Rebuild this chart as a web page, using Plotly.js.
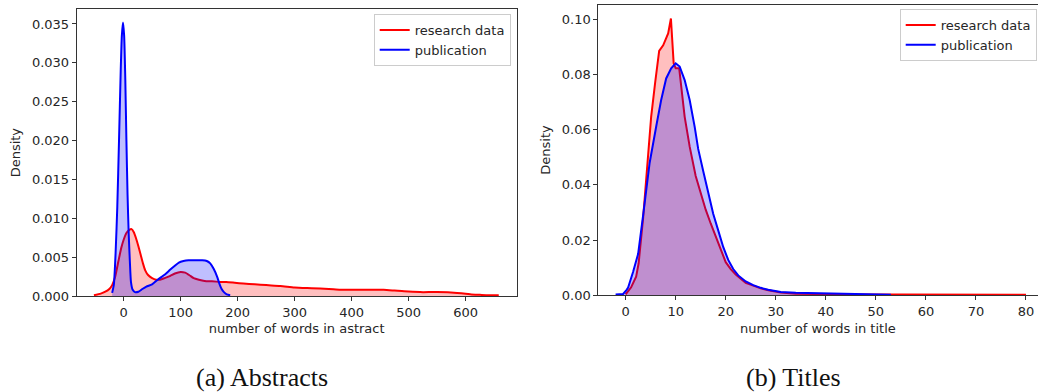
<!DOCTYPE html>
<html>
<head>
<meta charset="utf-8">
<script src="https://cdn.plot.ly/plotly-3.0.1.min.js"></script>
<style>
  html, body { margin: 0; padding: 0; background: #fff; }
  #chart { width: 1038px; height: 392px; }
</style>
</head>
<body>
<div id="chart"></div>
<script>
// Kernel density estimates of word counts, abstracts (left) and titles (right)
const seriesNames = ['research data', 'publication'];
const captions = ['(a) Abstracts', '(b) Titles'];
const xAxisLabels = ['number of words in astract', 'number of words in title'];
const yAxisLabel = 'Density';

// Abstracts: research data
const abstractResearchX = [-52, -40, -32, -25, -20, -15, -9, -4, 0, 5, 10, 14, 18, 22, 26, 30, 34, 38, 43, 50, 57, 64, 72, 82, 90, 100, 108, 115, 123, 132, 145, 155, 170, 180, 195, 210, 230, 250, 275, 300, 330, 360, 380, 400, 430, 456, 475, 492, 520, 550, 585, 600, 610, 625, 640, 658];
const abstractResearchY = [0.0001, 0.0003, 0.00055, 0.0009, 0.0014, 0.0024, 0.0045, 0.0062, 0.0072, 0.0081, 0.0085, 0.0086, 0.0082, 0.0074, 0.0064, 0.0053, 0.0042, 0.0033, 0.0027, 0.0023, 0.0021, 0.0021, 0.0023, 0.0026, 0.0029, 0.0031, 0.0030, 0.0027, 0.0023, 0.0021, 0.0019, 0.0019, 0.0018, 0.0018, 0.0017, 0.0016, 0.0015, 0.0014, 0.0013, 0.0011, 0.0010, 0.0009, 0.0008, 0.0008, 0.0008, 0.0008, 0.0007, 0.0006, 0.0005, 0.0005, 0.0004, 0.0003, 0.0002, 0.00015, 0.0001, 0.0001];

// Abstracts: publication
const abstractPubX = [-20, -17, -14, -11, -8, -5, -3, -1, 1, 3, 5, 7, 9, 11, 13, 16, 20, 26, 33, 40, 50, 60, 73, 82, 90, 97, 105, 114, 125, 138, 146, 152, 158, 164, 168, 172, 176, 181, 187];
const abstractPubY = [0.0004, 0.0015, 0.0055, 0.0115, 0.020, 0.029, 0.0335, 0.0352, 0.0335, 0.028, 0.020, 0.013, 0.008, 0.0045, 0.0018, 0.0008, 0.0005, 0.00055, 0.0009, 0.0012, 0.0015, 0.0021, 0.0028, 0.0034, 0.0039, 0.0043, 0.0045, 0.0046, 0.0046, 0.0046, 0.0045, 0.0042, 0.0035, 0.0025, 0.0016, 0.0009, 0.0005, 0.0002, 0.0001];

// Titles: research data
const titleResearchX = [0, 1.1, 2.1, 2.6, 3.5, 4.3, 5.1, 5.9, 6.7, 7.5, 8.5, 9.05, 9.6, 10.0, 10.7, 11.8, 12.8, 14.0, 14.8, 16.0, 17.0, 18.0, 19.0, 20.0, 21.0, 22.0, 23.0, 24.0, 25.5, 27.0, 28.5, 31.0, 34.0, 38.0, 45.0, 55.0, 65.0, 80.0];
const titleResearchY = [0.0003, 0.0029, 0.0067, 0.0116, 0.028, 0.045, 0.0646, 0.077, 0.0885, 0.0905, 0.0948, 0.1002, 0.084, 0.0822, 0.0822, 0.0646, 0.0538, 0.0432, 0.0381, 0.031, 0.026, 0.0215, 0.0165, 0.012, 0.0095, 0.0075, 0.006, 0.0045, 0.0035, 0.0025, 0.0018, 0.001, 0.0006, 0.0004, 0.0003, 0.0003, 0.0002, 0.0002];

// Titles: publication
const titlePubX = [-2, -0.5, 0.2, 0.5, 1.5, 2.5, 3.5, 4.8, 6.2, 7.1, 8.1, 9.1, 10.0, 10.8, 11.8, 12.8, 13.8, 14.5, 15.5, 16.5, 17.5, 18.5, 19.5, 20.5, 21.5, 22.5, 24.0, 25.5, 27.0, 28.5, 31.0, 34.0, 40.0, 46.0, 50.0, 53.0];
const titlePubY = [0.0003, 0.0005, 0.002, 0.0028, 0.0085, 0.015, 0.029, 0.048, 0.062, 0.0707, 0.0785, 0.0822, 0.084, 0.0828, 0.0779, 0.0707, 0.061, 0.053, 0.045, 0.037, 0.0295, 0.0235, 0.0175, 0.0128, 0.0095, 0.0072, 0.005, 0.0037, 0.0027, 0.002, 0.0012, 0.0009, 0.0007, 0.0006, 0.0005, 0.0002];

const RED = 'rgb(255,0,0)';
const BLUE = 'rgb(0,0,255)';
const RED_FILL = 'rgba(255,0,0,0.25)';
const BLUE_FILL = 'rgba(0,0,255,0.25)';
const FONT = 'DejaVu Sans, sans-serif';
const TEXT = '#262626';
const SPINE = '#333333';

// shaded density curve (legend entry is a plain line, added separately)
function kde(x, y, color, fill, xa, ya, shape) {
  return {
    type: 'scatter', mode: 'lines', x: x, y: y,
    xaxis: xa, yaxis: ya, showlegend: false,
    fill: 'tozeroy', fillcolor: fill,
    line: { color: color, width: 2, shape: shape, smoothing: 0.6 },
    hoverinfo: 'skip'
  };
}

// line-only legend key
function key(name, color, xa, ya, legend) {
  return {
    type: 'scatter', mode: 'lines', x: [null], y: [null], name: name,
    xaxis: xa, yaxis: ya, legend: legend, showlegend: true,
    line: { color: color, width: 2 }, hoverinfo: 'skip'
  };
}

const traces = [
  kde(abstractResearchX, abstractResearchY, RED, RED_FILL, 'x', 'y', 'spline'),
  kde(abstractPubX, abstractPubY, BLUE, BLUE_FILL, 'x', 'y', 'spline'),
  kde(titleResearchX, titleResearchY, RED, RED_FILL, 'x2', 'y2', 'linear'),
  kde(titlePubX, titlePubY, BLUE, BLUE_FILL, 'x2', 'y2', 'linear'),
  key(seriesNames[0], RED, 'x', 'y', 'legend'),
  key(seriesNames[1], BLUE, 'x', 'y', 'legend'),
  key(seriesNames[0], RED, 'x2', 'y2', 'legend2'),
  key(seriesNames[1], BLUE, 'x2', 'y2', 'legend2')
];

function axis(extra) {
  return Object.assign({
    showline: true, mirror: true, linecolor: SPINE, linewidth: 1,
    showgrid: false, zeroline: false,
    ticks: 'outside', ticklen: 4, tickwidth: 1, tickcolor: SPINE,
    tickfont: { family: FONT, size: 13, color: TEXT },
    automargin: false, fixedrange: true
  }, extra);
}

const W = 1038, H = 392;
const legendStyle = {
  bgcolor: 'rgba(255,255,255,0.8)', bordercolor: '#cccccc', borderwidth: 1,
  font: { family: FONT, size: 13, color: TEXT },
  xanchor: 'right', yanchor: 'top', tracegroupgap: 0
};

const layout = {
  width: W, height: H,
  margin: { l: 0, r: 0, t: 0, b: 0 },
  paper_bgcolor: '#ffffff', plot_bgcolor: '#ffffff',
  showlegend: true,
  xaxis: axis({
    domain: [76.7 / W, 516.7 / W], range: [-82.2, 689.5], anchor: 'y',
    tick0: 0, dtick: 100,
    title: { text: xAxisLabels[0], font: { family: FONT, size: 13, color: TEXT }, standoff: 5 }
  }),
  yaxis: axis({
    domain: [1 - 296 / H, 1 - 9.3 / H], range: [0, 0.03689], anchor: 'x',
    tick0: 0, dtick: 0.005, tickformat: '.3f',
    title: { text: yAxisLabel, font: { family: FONT, size: 13, color: TEXT }, standoff: 8 }
  }),
  xaxis2: axis({
    domain: [598.3 / W, 1037.5 / W], range: [-5.46, 82.3], anchor: 'y2',
    tick0: 0, dtick: 10,
    title: { text: xAxisLabels[1], font: { family: FONT, size: 13, color: TEXT }, standoff: 5 }
  }),
  yaxis2: axis({
    domain: [1 - 295.3 / H, 1 - 4.7 / H], range: [0, 0.1052], anchor: 'x2',
    tick0: 0, dtick: 0.02, tickformat: '.2f',
    title: { text: yAxisLabel, font: { family: FONT, size: 13, color: TEXT }, standoff: 8 }
  }),
  legend: Object.assign({ x: 510.7 / W, y: 1 - 14 / H }, legendStyle),
  legend2: Object.assign({ x: 1036.7 / W, y: 1 - 9 / H }, legendStyle),
  annotations: [
    { text: captions[0], xref: 'paper', yref: 'paper', x: 262 / W, y: 1 - 377 / H,
      xanchor: 'center', yanchor: 'middle', showarrow: false,
      font: { family: 'Liberation Serif, serif', size: 26, color: '#111' } },
    { text: captions[1], xref: 'paper', yref: 'paper', x: 793 / W, y: 1 - 377 / H,
      xanchor: 'center', yanchor: 'middle', showarrow: false,
      font: { family: 'Liberation Serif, serif', size: 26, color: '#111' } }
  ]
};

Plotly.newPlot('chart', traces, layout, { staticPlot: true, displayModeBar: false });
</script>
</body>
</html>
